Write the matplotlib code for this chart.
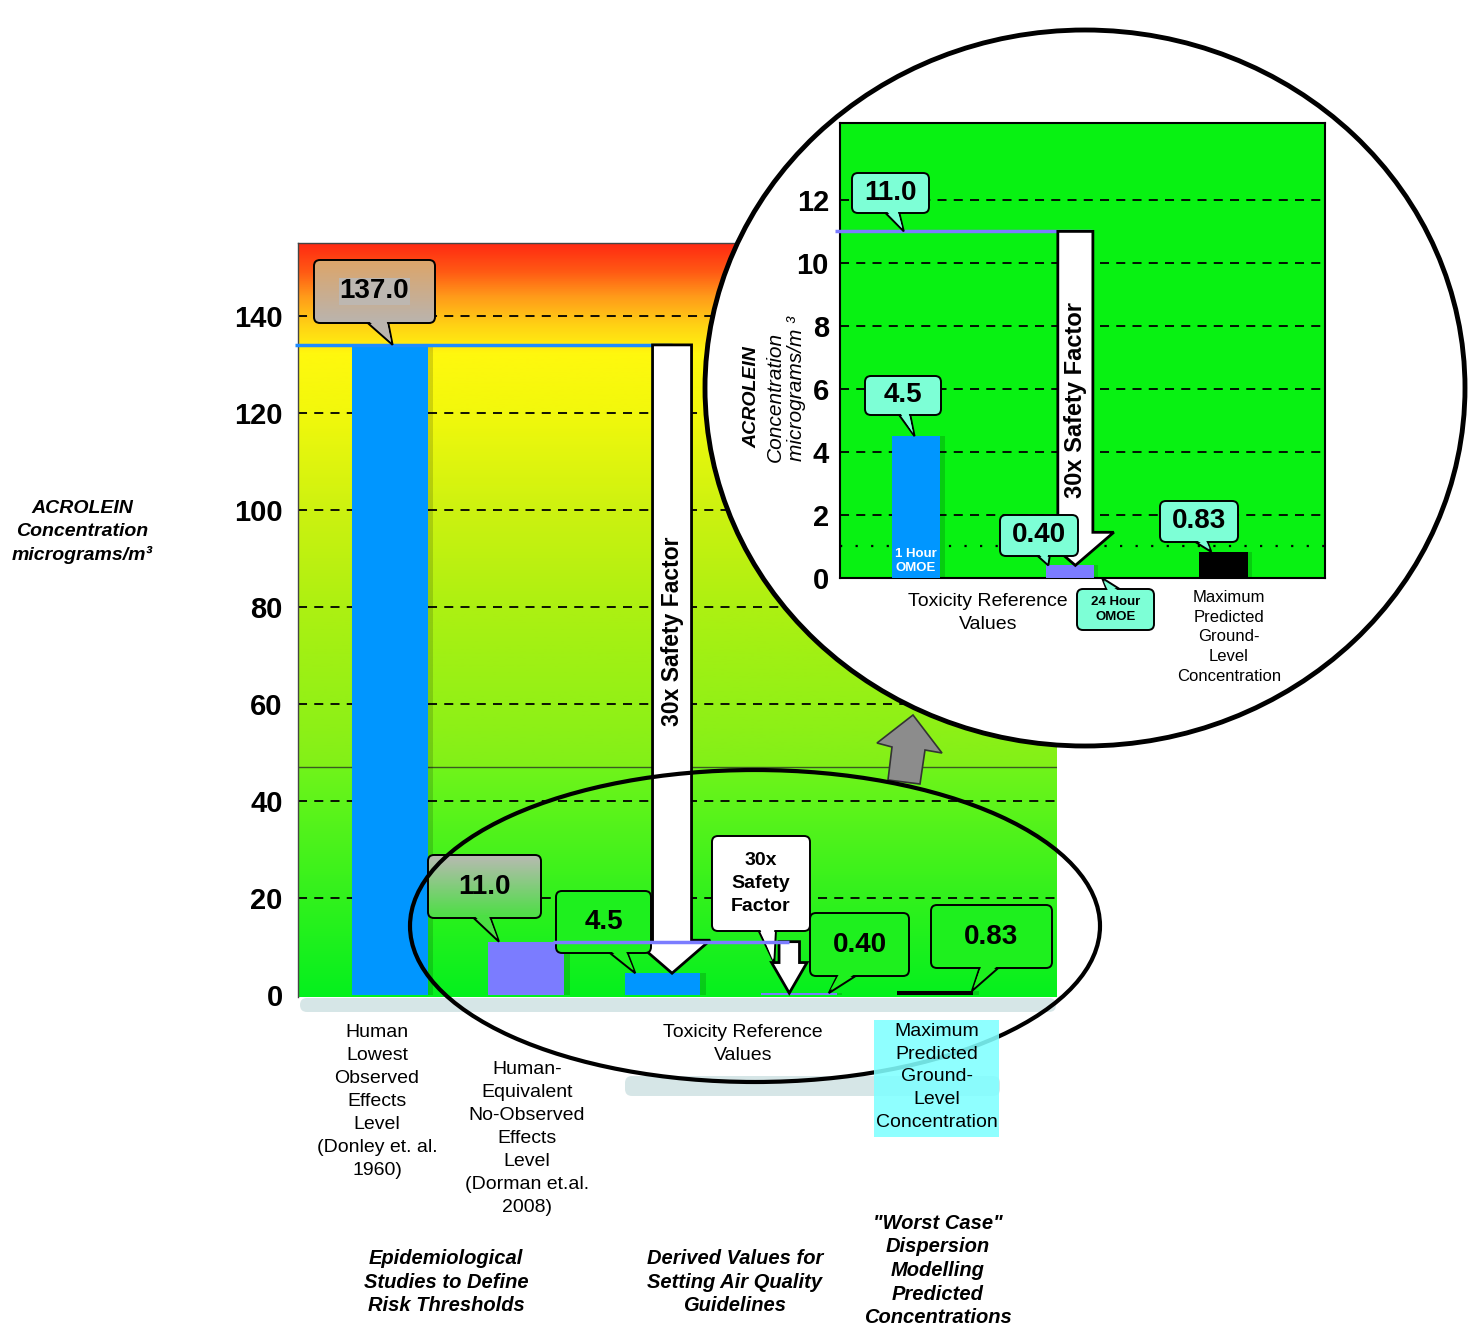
import numpy as np
import matplotlib.pyplot as plt
from matplotlib.colors import LinearSegmentedColormap
from matplotlib.patches import FancyBboxPatch, Polygon, Ellipse, FancyArrow

plt.rcParams['font.family'] = ['Liberation Sans', 'DejaVu Sans']

W, H = 1474, 1327

# ---- main chart data
main_x = [0, 1, 2, 3, 4]
main_values = [134.0, 11.0, 4.5, 0.40, 0.83]
main_colors = ['#0096FF', '#7B7CFF', '#0096FF', '#7B7CFF', '#000000']
main_callouts = ['137.0', '11.0', '4.5', '0.40', '0.83']
main_yticks = [0, 20, 40, 60, 80, 100, 120, 140]

# ---- inset (zoomed) data
inset_x = [0, 1, 2]
inset_values = [4.5, 0.40, 0.83]
inset_colors = ['#0096FF', '#7B7CFF', '#000000']
inset_callouts = ['4.5', '0.40', '0.83']
inset_yticks = [0, 2, 4, 6, 8, 10, 12]
noael_value = 11.0
boundary_value = 47

label_lowest = "Human\nLowest\nObserved\nEffects\nLevel\n(Donley et. al.\n1960)"
label_noael = "Human-\nEquivalent\nNo-Observed\nEffects\nLevel\n(Dorman et.al.\n2008)"
label_trv = "Toxicity Reference\nValues"
label_max = "Maximum\nPredicted\nGround-\nLevel\nConcentration"
group_labels = ["Epidemiological\nStudies to Define\nRisk Thresholds",
                "Derived Values for\nSetting Air Quality\nGuidelines",
                "\"Worst Case\"\nDispersion\nModelling\nPredicted\nConcentrations"]

# background colour stops (value, colour)
upper_stops = [(155, '#FF2812'), (149, '#FF5A14'), (144, '#FF9A1A'), (138, '#FFD214'),
               (132, '#FFF80E'), (120, '#F2F80C'), (100, '#CDF210'), (80, '#ADF012'),
               (60, '#94F016'), (47, '#82F018')]
lower_stops = [(47, '#70F41A'), (25, '#3CF21C'), (0, '#04F01E')]

fig = plt.figure(figsize=(W / 100, H / 100), dpi=100)


def px_axes(x0, y0, x1, y1, **kw):
    return fig.add_axes([x0 / W, 1 - y1 / H, (x1 - x0) / W, (y1 - y0) / H], **kw)


ax = px_axes(298, 243, 1057, 997, zorder=1)
ov = fig.add_axes([0, 0, 1, 1], zorder=2)
ax_in = px_axes(840, 123, 1325, 578, zorder=3)
ov2 = fig.add_axes([0, 0, 1, 1], zorder=4)
for o in (ov, ov2):
    o.axis('off')

XL, YL = (-0.674, 4.894), (-0.4, 155)
XI, YI = (-0.495, 2.66), (0, 14.44)
ax.set_xlim(XL)
ax.set_ylim(YL)
ax_in.set_xlim(XI)
ax_in.set_ylim(YI)


def to_px(a, x, y):
    X, Y = a.transData.transform((x, y))
    return X, H - Y


def stops_cmap(stops):
    top, bot = stops[0][0], stops[-1][0]
    return LinearSegmentedColormap.from_list(
        'g', [((top - v) / (top - bot), c) for v, c in stops])


# ---- main chart background
grad = np.linspace(0, 1, 256).reshape(-1, 1)
ax.imshow(grad, cmap=stops_cmap(upper_stops), extent=(XL[0], XL[1], boundary_value, YL[1]),
          origin='upper', aspect='auto', zorder=0)
ax.imshow(grad, cmap=stops_cmap(lower_stops), extent=(XL[0], XL[1], YL[0], boundary_value),
          origin='upper', aspect='auto', zorder=0)
ax.axhline(boundary_value, color='#3A5A20', lw=1, zorder=1)
for t in main_yticks[1:]:
    ax.axhline(t, color='black', ls=(0, (5, 4)), lw=1.3, zorder=1.5)

ax.bar([x + 0.04 for x in main_x], main_values, width=0.557, color='black', alpha=0.15, zorder=2.5)
ax.bar(main_x, main_values, width=0.557, color=main_colors, zorder=3)
ax.hlines(main_values[0], XL[0] - 0.02, 2.07, color='#1E8CFF', lw=2.5, zorder=3.5, clip_on=False)

ax.add_patch(FancyArrow(2.07, main_values[0], 0, main_values[2] - main_values[0], width=0.286,
                        head_width=0.56, head_length=6.8, length_includes_head=True,
                        fc='white', ec='black', lw=2, zorder=4))
ax.add_patch(FancyArrow(2.93, noael_value, 0, main_values[3] - noael_value, width=0.15,
                        head_width=0.26, head_length=6.3, length_includes_head=True,
                        fc='white', ec='black', lw=2, zorder=4))
ax.text(2.07, 75, "30x Safety Factor", rotation=90, ha='center', va='center',
        fontsize=16.5, fontweight='bold', zorder=5)

ax.set_xticks([])
ax.set_yticks(main_yticks, labels=[str(t) for t in main_yticks], fontsize=21, fontweight='bold')
ax.tick_params(axis='y', length=0, pad=11)
for s in ['right', 'bottom']:
    ax.spines[s].set_visible(False)
for s in ['top', 'left']:
    ax.spines[s].set_color('#444444')
    ax.spines[s].set_linewidth(1)

# ---- inset axes
ax_in.set_facecolor('#08F212')
for t in inset_yticks[1:]:
    ax_in.axhline(t, color='black', ls=(0, (5, 4)), lw=1.3, zorder=1)
ax_in.axhline(1, color='black', ls=(0, (1, 6)), lw=1.6, zorder=1)
ax_in.bar([x + 0.03 for x in inset_x], inset_values, width=0.313, color='black', alpha=0.15, zorder=2.5)
ax_in.bar(inset_x, inset_values, width=0.313, color=inset_colors, zorder=3)
ax_in.hlines(noael_value, XI[0] - 0.03, 1.147, color='#7B7CFF', lw=2.5, zorder=3.5, clip_on=False)
ax_in.add_patch(FancyArrow(1.036, noael_value, 0, inset_values[1] - noael_value, width=0.228,
                           head_width=0.5, head_length=1.05, length_includes_head=True,
                           fc='white', ec='black', lw=2, zorder=4))
ax_in.text(1.036, 5.65, "30x Safety Factor", rotation=90, ha='center', va='center',
           fontsize=17, fontweight='bold', zorder=5)
ax_in.text(inset_x[0], 0.54, "1 Hour\nOMOE", color='white', ha='center', va='center',
           fontsize=9.5, fontweight='bold', zorder=5, linespacing=1.25)
ax_in.set_xticks([])
ax_in.set_yticks(inset_yticks, labels=[str(t) for t in inset_yticks], fontsize=21, fontweight='bold')
ax_in.tick_params(axis='y', length=0, pad=8)
for s in ax_in.spines.values():
    s.set_linewidth(1.5)


# ---- callouts
def callout(o, box, tip, base, text, fc, top_fc=None, side='bottom', fs=20, z=5,
            text_bg=None, linespacing=1.2):
    x0, y0, x1, y1 = box
    ey, d = (y1, -1.5) if side == 'bottom' else (y0, 1.5)
    o.add_patch(Polygon([(base[0], ey + d), tip, (base[1], ey + d)], closed=True,
                        fc=fc, ec='black', lw=1.4, zorder=z))
    bp = FancyBboxPatch((x0, y0), x1 - x0, y1 - y0, boxstyle='round,pad=0,rounding_size=6',
                        fc=fc if top_fc is None else 'none', ec='black', lw=1.4, zorder=z + 0.2)
    o.add_patch(bp)
    if top_fc is not None:
        im = o.imshow(np.linspace(0, 1, 64).reshape(-1, 1),
                      cmap=LinearSegmentedColormap.from_list('b', [top_fc, fc]),
                      extent=(x0, x1, y1, y0), origin='upper', aspect='auto', zorder=z + 0.1)
        im.set_clip_path(bp)
    tx = tip[0] + (0 if abs(tip[0] - (base[0] + base[1]) / 2) < 1 else
                   np.sign((base[0] + base[1]) / 2 - tip[0]) * 1.5)
    ty = tip[1] - 3 * np.sign(tip[1] - ey)
    o.add_patch(Polygon([(base[0] + 1.6, ey + 2 * d), (tx, ty), (base[1] - 1.6, ey + 2 * d)],
                        closed=True, fc=fc, ec='none', zorder=z + 0.3))
    kw = {}
    if text_bg:
        kw['bbox'] = dict(fc=text_bg, ec='none', pad=0.5)
    o.text((x0 + x1) / 2, (y0 + y1) / 2, text, ha='center', va='center', fontsize=fs,
           fontweight='bold', zorder=z + 0.4, linespacing=linespacing, **kw)


callout(ov, (314, 260, 435, 323), to_px(ax, main_x[0] + 0.02, main_values[0]), (366, 388),
        main_callouts[0], '#BAB4AE', top_fc='#DCA56A', text_bg='#BDB7B1')
callout(ov, (428, 855, 541, 918), to_px(ax, main_x[1] - 0.2, main_values[1]), (472, 490),
        main_callouts[1], '#4CDF44', top_fc='#B8BAB2')
callout(ov, (556, 891, 651, 953), to_px(ax, main_x[2] - 0.2, main_values[2]), (608, 627),
        main_callouts[2], '#1EF01E')
callout(ov, (712, 836, 810, 931), to_px(ax, 2.82, 6.6), (758, 776),
        "30x\nSafety\nFactor", 'white', fs=14, linespacing=1.44)
callout(ov, (810, 913, 909, 976), to_px(ax, main_x[3] + 0.22, main_values[3]), (838, 858),
        main_callouts[3], '#1EF01E')
callout(ov, (931, 905, 1052, 968), to_px(ax, main_x[4] + 0.27, main_values[4]), (980, 1000),
        main_callouts[4], '#1EF01E')

# lavender 11.0 reference line runs over the 4.5 callout
lx0, ly = to_px(ax, 1.2, noael_value)
lx1, _ = to_px(ax, 2.93, noael_value)
ov.plot([lx0, lx1], [ly, ly], color='#7B7CFF', lw=2.5, zorder=6, solid_capstyle='butt')

aqua = '#7DFFD6'
callout(ov2, (852, 173, 929, 213), to_px(ax_in, -0.08, noael_value), (884, 899), '11.0', aqua)
callout(ov2, (865, 376, 941, 415), to_px(ax_in, inset_x[0] - 0.01, inset_values[0]), (898, 910),
        inset_callouts[0], aqua)
callout(ov2, (1000, 515, 1078, 556), to_px(ax_in, inset_x[1] - 0.14, inset_values[1]), (1036, 1050),
        inset_callouts[1], aqua)
callout(ov2, (1160, 501, 1238, 542), to_px(ax_in, inset_x[2] - 0.08, inset_values[2]), (1193, 1207),
        inset_callouts[2], aqua)
callout(ov2, (1077, 589, 1154, 630), to_px(ax_in, inset_x[1] + 0.21, 0), (1107, 1122),
        "24 Hour\nOMOE", aqua, side='top', fs=9.5, linespacing=1.3)

# ---- shadows below the chart
shadow_c = '#A6C8CA'
for (x0, y0, x1, y1) in [(300, 998, 1056, 1012), (625, 1076, 1000, 1096)]:
    ov.add_patch(FancyBboxPatch((x0, y0), x1 - x0, y1 - y0, boxstyle='round,pad=0,rounding_size=7',
                                fc=shadow_c, ec='none', alpha=0.45, zorder=0.5))

# ---- labels
ov.text(82, 532, "ACROLEIN\nConcentration\nmicrograms/m\u00b3", ha='center', va='center',
        fontsize=14, fontweight='bold', fontstyle='italic', linespacing=1.43)
ov.text(377, 1024, label_lowest, ha='center', va='top', fontsize=14, linespacing=1.46, zorder=3)
ov.text(527, 1061, label_noael, ha='center', va='top', fontsize=14, linespacing=1.46, zorder=3)
ov.text(743, 1024, label_trv, ha='center', va='top', fontsize=14, linespacing=1.46, zorder=3)
ov.add_patch(plt.Rectangle((874, 1020), 125, 117, fc='#80FFFF', ec='none', alpha=0.88, zorder=8.5))
ov.text(937, 1023, label_max, ha='center', va='top', fontsize=14, linespacing=1.44, zorder=8.6)
for gx, gy, gl in zip([446, 735, 938], [1249, 1249, 1214], group_labels):
    ov.text(gx, gy, gl, ha='center', va='top', fontsize=14.5, fontweight='bold',
            fontstyle='italic', linespacing=1.3, zorder=3)

# ---- ellipse, gray arrow, magnifier circle
ov.add_patch(Ellipse((755, 926), 690, 312, fc='none', ec='black', lw=3, zorder=8))
ov.add_patch(Polygon([(888, 780), (892, 747), (877, 743), (913, 715), (942, 753), (925, 750), (920, 784)],
                     closed=True, fc='#8C8C8C', ec='#333333', lw=1.2, zorder=7))
ov.add_patch(Ellipse((1085, 388), 760, 716, fc='white', ec='black', lw=3.5, zorder=9))

ov2.text(752, 397, "ACROLEIN", rotation=90, ha='center', va='center', fontsize=14,
         fontweight='bold', fontstyle='italic')
ov2.text(775, 397, "Concentration", rotation=90, ha='center', va='center', fontsize=15,
         fontstyle='italic')
ov2.text(797, 388, "micrograms/m \u00b3", rotation=90, ha='center', va='center', fontsize=15,
         fontstyle='italic')
ov2.text(988, 593, label_trv, ha='center', va='top', fontsize=14, linespacing=1.44)
ov2.text(1229, 590, label_max, ha='center', va='top', fontsize=12, linespacing=1.39)

for o in (ov, ov2):
    o.set_xlim(0, W)
    o.set_ylim(H, 0)
ax.set_xlim(XL)
ax.set_ylim(YL)

fig.savefig('out.png', dpi=100)
